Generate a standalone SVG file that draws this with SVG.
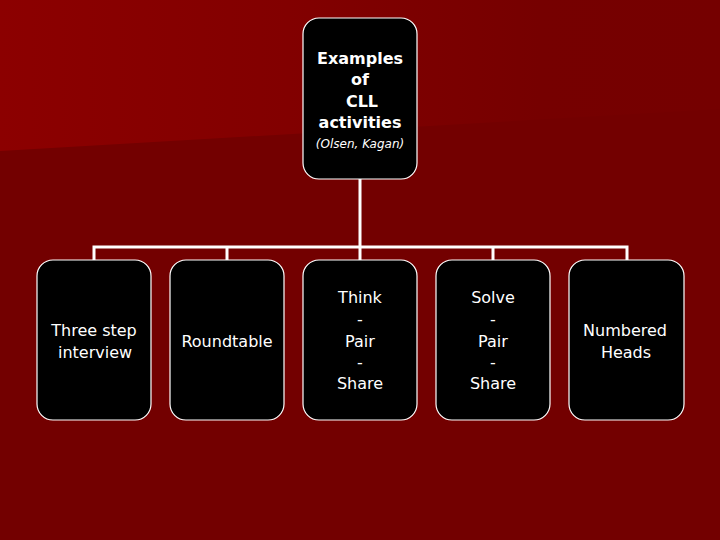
<svg xmlns="http://www.w3.org/2000/svg" width="720" height="540" viewBox="0 0 720 540">
<defs>
<linearGradient id="hl" x1="0" y1="0" x2="720" y2="0" gradientUnits="userSpaceOnUse">
<stop offset="0" stop-color="#8c0000"/>
<stop offset="0.4" stop-color="#820000"/>
<stop offset="0.75" stop-color="#760000"/>
<stop offset="1" stop-color="#750000"/>
</linearGradient>
<style>
.box{fill:#000;stroke:#fff;stroke-width:1.2}
.conn{fill:none;stroke:#fff;stroke-width:3}
.t{fill:#fff;font-family:"DejaVu Sans",Verdana,sans-serif;font-size:16px;text-anchor:middle}
.b{font-weight:bold}
.i{font-style:italic;font-size:12px}
</style>
</defs>
<rect width="720" height="540" fill="#730000"/>
<polygon points="0,0 720,0 720,109 0,151" fill="url(#hl)"/>
<g id="connectors">
<path class="conn" d="M360,179 V247 M94,260 V247 H627 V260 M227,247 V260 M360,247 V260 M493,247 V260"/>
</g>
<g id="root">
<rect class="box" x="303" y="18" width="114" height="161" rx="16"/>
<text class="t b" x="360" y="64">Examples</text>
<text class="t b" x="360" y="85">of</text>
<text class="t b" x="362" y="107">CLL</text>
<text class="t b" x="360" y="128">activities</text>
<text class="t i" x="360" y="148">(Olsen, Kagan)</text>
</g>
<g id="n1">
<rect class="box" x="37" y="260" width="114" height="160" rx="16"/>
<text class="t" x="94" y="336">Three step</text>
<text class="t" x="95" y="358">interview</text>
</g>
<g id="n2">
<rect class="box" x="170" y="260" width="114" height="160" rx="16"/>
<text class="t" x="227" y="347">Roundtable</text>
</g>
<g id="n3">
<rect class="box" x="303" y="260" width="114" height="160" rx="16"/>
<text class="t" x="360" y="303">Think</text>
<text class="t" x="360" y="325">-</text>
<text class="t" x="360" y="347">Pair</text>
<text class="t" x="360" y="368">-</text>
<text class="t" x="360" y="389">Share</text>
</g>
<g id="n4">
<rect class="box" x="436" y="260" width="114" height="160" rx="16"/>
<text class="t" x="493" y="303">Solve</text>
<text class="t" x="493" y="325">-</text>
<text class="t" x="493" y="347">Pair</text>
<text class="t" x="493" y="368">-</text>
<text class="t" x="493" y="389">Share</text>
</g>
<g id="n5">
<rect class="box" x="569" y="260" width="115" height="160" rx="16"/>
<text class="t" x="625" y="336">Numbered</text>
<text class="t" x="626" y="358">Heads</text>
</g>
</svg>
